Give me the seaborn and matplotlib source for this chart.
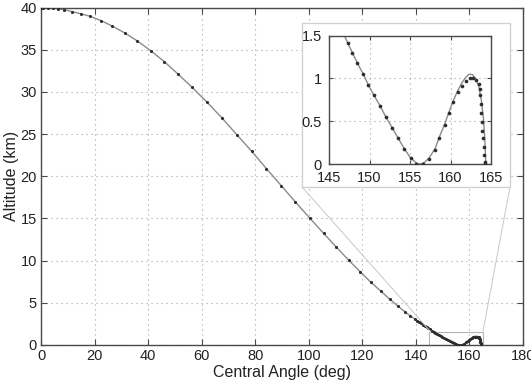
import numpy as np
import pandas as pd
import matplotlib
matplotlib.use("Agg")
import matplotlib.pyplot as plt
from matplotlib.patches import Rectangle
from matplotlib.lines import Line2D
import seaborn as sns

# ---- data ----
# discrete solution points (central angle deg, altitude km)
dot_angle = np.array([
    0.0, 0.9, 2.7, 4.4, 6.5, 8.7, 11.7, 15.0, 18.4, 22.4, 26.6, 31.2, 35.9,
    40.9, 46.0, 51.2, 56.4, 62.1, 67.6, 73.2, 78.7, 84.2, 89.7, 95.0, 100.4,
    105.5, 110.3, 114.9, 119.3, 123.2, 127.0, 130.3, 133.2, 135.8, 137.9,
    139.8, 140.5, 141.2, 141.9, 142.6, 143.3, 144.0, 144.7, 145.3, 146.0,
    146.6, 147.3, 147.9, 148.5, 149.2, 149.85, 150.55, 151.3, 152.0, 152.8,
    153.55, 154.3, 155.1, 155.8, 156.6, 157.35, 158.1, 158.6, 159.3, 159.8,
    160.35, 160.9, 161.4, 161.9, 162.4, 162.8, 163.2, 163.5, 163.6, 163.64,
    163.77, 163.81, 163.9, 163.93, 164.05, 164.13, 164.18, 164.22, 164.24])
dot_alt = np.array([
    40.0, 40.0, 39.97, 39.93, 39.85, 39.75, 39.5, 39.25, 38.95, 38.45, 37.8,
    37.0, 36.05, 34.9, 33.6, 32.1, 30.55, 28.75, 26.9, 24.9, 22.95, 20.9,
    18.9, 16.95, 15.03, 13.25, 11.6, 10.05, 8.65, 7.43, 6.36, 5.41, 4.64,
    3.95, 3.45, 3.05, 2.88, 2.72, 2.57, 2.42, 2.27, 2.12, 1.97, 1.84, 1.70,
    1.56, 1.418, 1.298, 1.181, 1.056, 0.927, 0.803, 0.682, 0.553, 0.424,
    0.300, 0.179, 0.066, 0.005, 0.0, 0.055, 0.167, 0.30, 0.456, 0.593, 0.728,
    0.838, 0.916, 0.974, 1.002, 1.000, 0.982, 0.939, 0.877, 0.807, 0.698,
    0.593, 0.495, 0.386, 0.30, 0.202, 0.105, 0.027, 0.0])

# continuous trajectory: follows the dots, own shape over the final hump
hump_angle = np.array([155.9, 156.3, 156.8, 157.35, 158.1, 158.6, 159.3,
                       159.8, 160.35, 160.9, 161.4, 161.9, 162.3, 162.7, 163.1,
                       163.5, 163.8, 164.05, 164.2, 164.3, 164.36])
hump_alt = np.array([0.005, 0.0, 0.02, 0.07, 0.18, 0.31, 0.47, 0.605, 0.74,
                     0.86, 0.95, 1.015, 1.05, 1.045, 1.0, 0.9, 0.75, 0.55,
                     0.35, 0.15, 0.0])

keep = dot_angle < 155.5
line_df = pd.DataFrame({"angle": np.concatenate([dot_angle[keep], hump_angle]),
                        "alt": np.concatenate([dot_alt[keep], hump_alt])})
dot_df = pd.DataFrame({"angle": dot_angle, "alt": dot_alt})

sns.set_theme(style="ticks")
plt.rcParams["font.family"] = ["Liberation Sans", "DejaVu Sans"]

LINE_C = "#8a8a8a"
DOT_C = "#2e2e2e"
SPINE_C = "#4a4a4a"
GRID_KW = dict(color="#a0a0a0", linestyle=(0, (1, 3.5)), linewidth=0.8)


def style_axes(ax, fs):
    for s in ax.spines.values():
        s.set_color(SPINE_C)
        s.set_linewidth(1.0)
    ax.tick_params(direction="in", top=True, right=True, length=4,
                   width=0.8, color=SPINE_C, labelsize=fs, labelcolor="#222",
                   pad=3)
    ax.grid(True, **GRID_KW)


def draw_series(ax, ms):
    sns.lineplot(data=line_df, x="angle", y="alt", ax=ax, sort=False,
                 estimator=None, color=LINE_C, linewidth=1.0)
    sns.scatterplot(data=dot_df, x="angle", y="alt", ax=ax, color=DOT_C,
                    s=ms, linewidth=0, zorder=3)
    ax.set_xlabel("")
    ax.set_ylabel("")


fig = plt.figure(figsize=(5.31, 3.80), dpi=100)
ax = fig.add_axes([41 / 531, 35 / 380, 482 / 531, 337.5 / 380])
draw_series(ax, 5)
ax.set_xlim(0, 180)
ax.set_ylim(0, 40)
ax.set_xticks(np.arange(0, 181, 20))
ax.set_yticks(np.arange(0, 41, 5))
style_axes(ax, 10.5)
ax.set_xlabel("Central Angle (deg)", fontsize=11.5, color="#222", labelpad=1)
ax.set_ylabel("Altitude (km)", fontsize=11.5, color="#222", labelpad=1)

# zoom region marker
ax.add_patch(Rectangle((145, 0), 20, 1.5, fill=False, edgecolor="#b5b5b5",
                       linewidth=0.8, zorder=2))

# white frame behind the inset
box = Rectangle((302 / 531, 193 / 380), 208 / 531, 164 / 380,
                transform=fig.transFigure, facecolor="white",
                edgecolor="#cfcfcf", linewidth=0.9, zorder=1)
fig.patches.append(box)

# connector lines (figure pixel coords)
for (x0, y0), (x1, y1) in [((302, 187), (430, 331)), ((510, 187), (483, 331))]:
    fig.lines.append(Line2D([x0 / 531, x1 / 531], [1 - y0 / 380, 1 - y1 / 380],
                            transform=fig.transFigure, color="#c8c8c8",
                            linewidth=0.7, zorder=1))

axin = fig.add_axes([329 / 531, 216 / 380, 162 / 531, 128.3 / 380], zorder=2)
draw_series(axin, 7)
axin.set_xlim(145, 165)
axin.set_ylim(0, 1.5)
axin.set_xticks([145, 150, 155, 160, 165])
axin.set_yticks([0, 0.5, 1, 1.5])
axin.set_yticklabels(["0", "0.5", "1", "1.5"])
style_axes(axin, 10.5)
axin.tick_params(length=3)
axin.tick_params(axis="x", pad=5)
axin.tick_params(axis="y", pad=5)

fig.savefig("out.png", dpi=100)
